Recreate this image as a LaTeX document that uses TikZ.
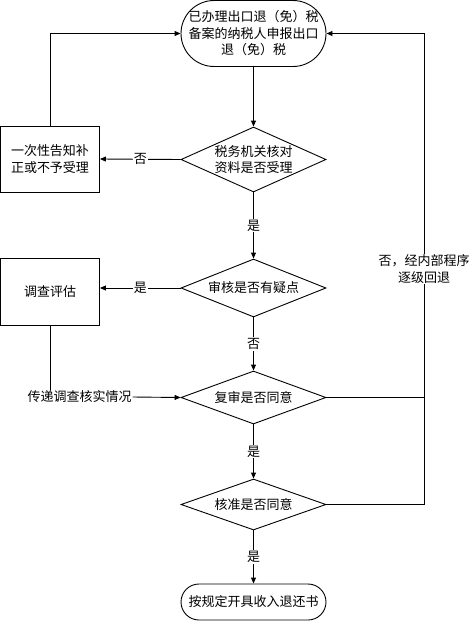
\documentclass[tikz,border=0pt]{standalone}
\usepackage{fontspec}
\setmainfont{Noto Sans CJK SC}
\usetikzlibrary{shapes.geometric,arrows.meta}
\tikzset{
  every node/.style={font=\fontsize{13pt}{16.5pt}\selectfont},
  ln/.style={line width=0.9pt},
  arr/.style={ln,-{Triangle[length=6pt,width=5pt]}},
  term/.style={draw,ln,rectangle,inner sep=0pt,align=center,minimum width=145pt},
  dia/.style={draw,ln,diamond,inner sep=0pt,minimum width=145pt},
  box/.style={draw,ln,rectangle,inner sep=0pt,align=center,minimum width=99pt},
  lab/.style={fill=white,inner sep=1pt},
}
\begin{document}
\begin{tikzpicture}[x=1pt,y=-1pt]
\useasboundingbox (0,0) rectangle (472,621);
\node[term,rounded corners=33pt,minimum height=66pt] (t1) at (253.5,33.5) {已办理出口退（免）税\\备案的纳税人申报出口\\退（免）税};
\node[dia,minimum height=65pt,label={[align=center]center:税务机关核对\\资料是否受理}] (d1) at (253.5,159.5) {};
\node[box,minimum height=66pt] (b1) at (50,159) {一次性告知补\\正或不予受理};
\node[dia,minimum height=58pt,label={center:审核是否有疑点}] (d2) at (253.5,288) {};
\node[box,minimum height=67pt] (b2) at (50,292) {调查评估};
\node[inner sep=1pt] (pass) at (79.5,397) {传递调查核实情况};
\node[dia,minimum height=53pt,label={center:复审是否同意}] (d3) at (253.5,397.5) {};
\node[dia,minimum height=51pt,label={center:核准是否同意}] (d4) at (253.5,504.5) {};
\node[term,rounded corners=18pt,minimum height=36pt] (t2) at (253.5,602) {按规定开具收入退还书};
\coordinate (rc) at (424,0);

\draw[arr] (t1.south) -- (d1.north);
\draw[arr] (d1.west) -- node[lab] (n1) {否} (b1.east);
\draw[arr] (b1.north) |- (t1.west);
\draw[arr] (d1.south) -- node[lab] (y1) {是} (d2.north);
\draw[arr] (d2.west) -- node[lab] (y2) {是} (d2.west -| b2.east);
\draw[arr] (d2.south) -- node[lab] (n2) {否} (d3.north);
\draw[ln] (b2.south) -- (b2.south |- pass.north);
\draw[arr] (pass.east) -- (d3.west);
\draw[arr] (d3.south) -- node[lab] (y3) {是} (d4.north);
\draw[arr] (d4.south) -- node[lab] (y4) {是} (t2.north);
\draw[ln] (d3.east) -- (d3.east -| rc);
\draw[arr] (d4.east) -- (d4.east -| rc) -- (rc |- t1.east) -- (t1.east);
\node[lab,align=center] (fb) at (424,269) {否，经内部程序\\逐级回退};
\end{tikzpicture}
\end{document}
